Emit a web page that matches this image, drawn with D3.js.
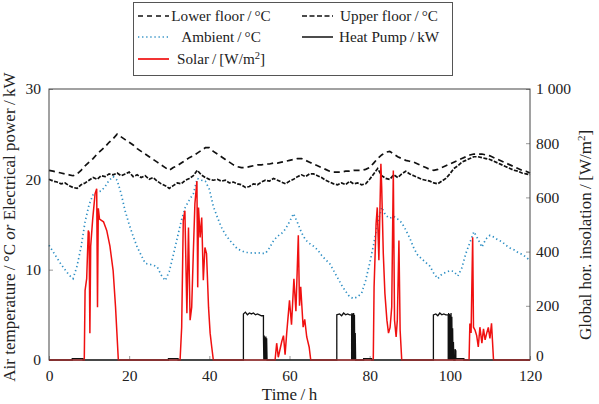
<!DOCTYPE html>
<html>
<head>
<meta charset="utf-8">
<script src="https://cdn.jsdelivr.net/npm/d3@7"></script>
<style>
  body { margin: 0; background: #fff; }
  svg text { font-family: "Liberation Serif", "DejaVu Serif", serif; fill: #222; }
</style>
</head>
<body>
<div id="chart"></div>
<script>
// hourly samples, t = 0..120 h
const hours = d3.range(0, 121);

const lowerFloor = [
  21.0, 20.9, 20.8, 20.7, 20.6, 20.5, 20.4, 20.6, 21.0, 21.5,
  21.9, 22.3, 22.8, 23.2, 23.6, 24.1, 24.5, 25.0, 24.7, 24.4,
  24.1, 23.8, 23.4, 23.1, 22.8, 22.5, 22.2, 21.9, 21.6, 21.3,
  21.0, 21.3, 21.5, 21.8, 22.1, 22.4, 22.6, 22.9, 23.2, 23.5,
  23.5, 23.1, 22.8, 22.5, 22.2, 21.9, 21.6, 21.4, 21.3, 21.3,
  21.4, 21.5, 21.6, 21.6, 21.7, 21.7, 21.8, 21.8, 21.9, 22.0,
  22.1, 22.2, 22.3, 22.3, 22.1, 21.9, 21.7, 21.5, 21.3, 21.1,
  20.9, 20.8, 20.8, 20.8, 20.9, 20.9, 21.0, 21.0, 21.0, 21.1,
  21.3, 21.8, 22.3, 22.7, 23.0, 23.1, 22.8, 22.5, 22.3, 22.1,
  22.0, 21.9, 21.7, 21.5, 21.3, 21.1, 21.0, 21.1, 21.3, 21.5,
  21.7, 21.9, 22.1, 22.3, 22.5, 22.7, 22.8, 22.8, 22.8, 22.7,
  22.6, 22.4, 22.2, 22.0, 21.8, 21.6, 21.4, 21.2, 21.0, 20.9,
  20.7
];

const upperFloor = [
  20.0, 19.8, 19.7, 19.5, 19.6, 19.3, 19.1, 19.0, 19.4, 19.6,
  19.9, 20.2, 20.0, 20.4, 20.3, 20.6, 20.5, 20.7, 20.4, 20.6,
  20.8, 20.3, 20.5, 20.2, 20.4, 20.0, 20.2, 19.8, 19.5, 19.3,
  19.0, 19.3, 19.6, 19.5, 19.9, 20.1, 20.4, 21.0, 20.5, 20.2,
  20.0, 19.9, 20.0, 19.8, 19.9, 19.6, 19.7, 19.5, 19.4, 19.1,
  19.2, 19.5, 19.4, 19.7, 19.9, 19.8, 20.1, 19.9, 19.7, 19.5,
  19.8, 20.0, 20.3, 20.5, 20.3, 20.6, 20.6, 20.4, 20.2, 19.9,
  19.7, 19.5, 19.4, 19.6, 19.4, 19.8, 19.5, 19.6, 19.4, 19.5,
  20.0, 20.6, 21.2, 20.4, 20.1, 20.0, 20.5, 20.2, 20.6, 20.9,
  20.6, 20.4, 20.2, 20.0, 19.9, 19.8, 19.6, 19.5, 19.8, 20.1,
  20.6, 21.2, 21.5, 21.9, 22.1, 22.3, 22.5, 22.5, 22.4, 22.3,
  22.2, 22.0, 21.8, 21.6, 21.4, 21.2, 21.0, 20.9, 20.7, 20.6,
  20.5
];

const ambient = [
  12.7, 12.0, 11.3, 10.6, 10.0, 9.4, 9.0, 10.4, 12.5, 15.3,
  17.2, 18.3, 18.6, 18.7, 19.2, 19.9, 20.3, 19.9, 18.4, 16.5,
  15.0, 13.7, 12.5, 11.6, 10.7, 10.6, 10.5, 10.3, 9.4, 8.8,
  9.8, 11.6, 13.5, 15.4, 16.9, 17.7, 18.4, 20.1, 19.9, 19.8,
  18.9, 17.0, 15.8, 14.7, 13.9, 13.3, 12.8, 12.3, 12.1, 11.9,
  11.9, 11.8, 11.9, 11.8, 11.8, 12.4, 13.2, 13.7, 14.0, 14.5,
  15.3, 16.2, 15.2, 14.1, 13.3, 12.9, 12.6, 12.2, 11.6, 11.1,
  10.7, 9.9, 9.1, 8.3, 7.6, 7.0, 6.8, 7.0, 7.4, 8.8,
  10.7, 12.8, 15.2, 16.9, 16.0, 15.7, 15.9, 15.6, 15.2, 14.4,
  13.5, 12.4, 11.6, 11.2, 10.8, 10.4, 9.6, 9.0, 9.5, 9.7,
  9.9, 9.8, 9.3, 10.2, 11.8, 13.0, 14.2, 13.4, 12.5, 13.4,
  13.8, 13.6, 13.3, 13.1, 12.7, 12.4, 12.2, 11.9, 11.7, 11.4,
  11.0
];

// [hour, kW]
const heatPump = [
  [0, 0], [5.8, 0], [5.8, 0.15], [8.5, 0.15], [8.5, 0],
  [29.8, 0], [29.8, 0.15], [32.2, 0.15], [32.2, 0],
  [48.5, 0], [48.5, 5.1], [49, 5.3], [49.5, 5.0], [50, 5.2], [50.5, 5.1],
  [51, 5.2], [51.5, 5.0], [52, 5.1], [52.5, 5.0], [53, 4.9], [53.5, 4.9],
  [53.5, 2.6], [53.6, 0], [53.7, 2.7], [53.8, 0], [53.9, 2.5], [54.0, 0],
  [54.1, 2.6], [54.2, 0], [54.3, 2.4], [54.4, 0],
  [71.8, 0], [71.8, 5.0], [72.5, 5.1], [73, 4.9], [73.5, 5.2], [74, 5.0],
  [74.5, 5.1], [75, 5.0], [75.5, 5.0], [75.5, 0], [75.6, 5.2], [75.7, 0],
  [75.8, 5.1], [75.9, 0], [76.0, 5.2], [76.1, 0], [76.2, 5.0], [76.3, 0],
  [76.4, 3.0], [76.5, 0],
  [78.5, 0], [78.5, 0.15], [80.5, 0.15], [80.5, 0],
  [95.9, 0], [95.9, 5.0], [96.5, 5.1], [97, 4.9], [97.5, 5.2], [98, 5.0],
  [98.5, 5.1], [99, 5.0], [99.6, 5.0], [99.6, 0], [99.7, 5.2], [99.8, 0],
  [99.9, 5.1], [100.0, 0], [100.1, 5.0], [100.2, 0], [100.3, 5.2], [100.4, 0],
  [100.5, 4.8], [100.6, 0], [100.7, 3.5], [100.8, 0], [100.9, 2.0], [101.0, 0],
  [101.3, 0], [101.3, 1.2], [101.5, 1.0], [101.5, 0.15], [103.5, 0.15],
  [103.5, 0], [120, 0]
];

// [hour, W/m²]
const solar = [
  [0, 0], [8.8, 0], [9.0, 257], [9.4, 300], [9.8, 478], [10.0, 470], [10.2, 99],
  [10.4, 420], [10.9, 520], [11.5, 614], [11.9, 632], [12.1, 195], [12.3, 560],
  [12.6, 520], [13.6, 510], [14.4, 478], [15.2, 420], [16.0, 330], [16.6, 195],
  [17.3, 0],
  [32.7, 0], [33.1, 121], [33.5, 515], [33.9, 551], [34.4, 173], [34.8, 489],
  [35.2, 147], [35.6, 195], [36.0, 393], [36.4, 577], [36.9, 660], [37.1, 268],
  [37.3, 563], [37.7, 452], [38.1, 526], [38.5, 294], [38.9, 415], [39.3, 393],
  [39.8, 195], [40.2, 99], [40.6, 48], [41.0, 0],
  [56.4, 0], [56.8, 62], [57.2, 10], [57.6, 37], [58.1, 70], [58.5, 90],
  [58.9, 20], [59.3, 99], [60.0, 220], [60.5, 130], [61.1, 300], [61.6, 180],
  [62.2, 460], [62.5, 200], [62.8, 270], [63.4, 121], [63.8, 150], [64.3, 85],
  [64.9, 48], [65.3, 0],
  [80.9, 0], [81.1, 268], [81.6, 503], [81.9, 563], [82.3, 368], [82.8, 724],
  [83.0, 637], [83.4, 393], [83.8, 246], [84.3, 147], [84.7, 99], [85.1, 120],
  [85.5, 195], [85.9, 699], [86.2, 147], [86.6, 85], [86.9, 147], [87.3, 441],
  [87.6, 110], [88.0, 0],
  [104.8, 0], [105.0, 135], [105.3, 100], [105.7, 453], [105.9, 121],
  [106.3, 110], [106.7, 90], [107.1, 48], [107.5, 121], [108.0, 62],
  [108.4, 115], [108.8, 74], [109.2, 99], [109.6, 120], [110.0, 80],
  [110.4, 135], [110.9, 0], [120, 0]
];

const xTicks = [0, 20, 40, 60, 80, 100, 120];
const leftTicks = [0, 10, 20, 30];
const rightTicks = [0, 200, 400, 600, 800, 1000];

const W = 599, H = 404;
const plot = { left: 49, right: 530, top: 89, bottom: 360 };

const svg = d3.select("#chart").append("svg")
  .attr("width", W)
  .attr("height", H);

const x = d3.scaleLinear().domain([0, 120]).range([plot.left, plot.right]);
const yL = d3.scaleLinear().domain([0, 30]).range([plot.bottom, plot.top]);
const yR = d3.scaleLinear().domain([0, 1000]).range([plot.bottom, plot.top]);

// axes (ticks inside, like pgfplots)
const tickCol = "#999";
svg.append("g")
  .attr("transform", `translate(0,${plot.bottom})`)
  .call(d3.axisBottom(x).tickValues(xTicks).tickSizeInner(-4).tickSizeOuter(0).tickPadding(10))
  .call(g => g.select(".domain").remove());
svg.append("g")
  .attr("transform", `translate(${plot.left},0)`)
  .call(d3.axisLeft(yL).tickValues(leftTicks).tickSizeInner(-4).tickSizeOuter(0).tickPadding(8))
  .call(g => g.select(".domain").remove());
svg.append("g")
  .attr("class", "right-axis")
  .attr("transform", `translate(${plot.right},0)`)
  .call(d3.axisRight(yR).tickValues(rightTicks).tickSizeInner(-4).tickSizeOuter(0).tickPadding(6)
    .tickFormat(d => d >= 1000 ? "1 000" : d))
  .call(g => g.select(".domain").remove());

svg.selectAll(".tick line").attr("stroke", tickCol);
svg.selectAll(".tick text").attr("font-size", 15.5).attr("fill", "#222")
  .attr("font-family", '"Liberation Serif", serif');
// the right "0" sits just above the "120" of the time axis
svg.selectAll(".right-axis .tick text").filter(d => d === 0).attr("dy", "0.05em");

// lines
const lineL = d3.line().x((d, i) => x(hours[i])).y(d => yL(d));
const linePair = d3.line().x(d => x(d[0])).y(d => yL(d[1]));
const lineSolar = d3.line().x(d => x(d[0])).y(d => yR(d[1]));

svg.append("path").datum(lowerFloor)
  .attr("d", lineL).attr("fill", "none")
  .attr("stroke", "#111").attr("stroke-width", 1.7).attr("stroke-dasharray", "6,4");
svg.append("path").datum(upperFloor)
  .attr("d", lineL).attr("fill", "none")
  .attr("stroke", "#111").attr("stroke-width", 1.7).attr("stroke-dasharray", "4,1.5");
svg.append("path").datum(ambient)
  .attr("d", lineL).attr("fill", "none")
  .attr("stroke", "#2e8fc4").attr("stroke-width", 1.7).attr("stroke-dasharray", "1.3,2.8");
svg.append("path").datum(heatPump)
  .attr("d", linePair).attr("fill", "none")
  .attr("stroke", "#111").attr("stroke-width", 1.3);
svg.append("path").datum(solar)
  .attr("d", lineSolar).attr("fill", "none")
  .attr("stroke", "#f01010").attr("stroke-width", 1.5);

// frame
svg.append("rect")
  .attr("x", plot.left).attr("y", plot.top)
  .attr("width", plot.right - plot.left).attr("height", plot.bottom - plot.top)
  .attr("fill", "none").attr("stroke", "#444").attr("stroke-width", 1);

// axis labels
svg.append("text")
  .attr("x", (plot.left + plot.right) / 2).attr("y", 400)
  .attr("text-anchor", "middle").attr("font-size", 17)
  .text("Time\u2009/\u2009h");

const leftLab = svg.append("text")
  .attr("transform", "translate(15,227) rotate(-90)")
  .attr("text-anchor", "middle").attr("font-size", 17);
leftLab.append("tspan").text("Air temperature\u2009/\u2009°C ");
leftLab.append("tspan").attr("font-style", "italic").text("or");
leftLab.append("tspan").text(" Electrical power\u2009/\u2009kW");

const rightLab = svg.append("text")
  .attr("transform", "translate(591,235) rotate(-90)")
  .attr("text-anchor", "middle").attr("font-size", 17);
rightLab.append("tspan").text("Global hor. insolation\u2009/\u2009[W/m");
rightLab.append("tspan").attr("dy", -6).attr("font-size", 11).text("2");
rightLab.append("tspan").attr("dy", 6).text("]");

// legend
const lg = svg.append("g");
lg.append("rect").attr("x", 133.5).attr("y", 2.5).attr("width", 319).attr("height", 73)
  .attr("fill", "#fff").attr("stroke", "#555").attr("stroke-width", 1);

const legendItems = [
  { label: ["Lower floor\u2009/\u2009°C"], col: 0, row: 0, stroke: "#111", dash: "5,4", w: 1.7 },
  { label: ["Upper floor\u2009/\u2009°C"], col: 1, row: 0, stroke: "#111", dash: "5,2.5", w: 1.7 },
  { label: ["Ambient\u2009/\u2009°C"], col: 0, row: 1, stroke: "#2e8fc4", dash: "1.3,2.8", w: 1.7 },
  { label: ["Heat Pump\u2009/\u2009kW"], col: 1, row: 1, stroke: "#111", dash: null, w: 1.5 },
  { label: ["Solar\u2009/\u2009[W/m", "2", "]"], col: 0, row: 2, stroke: "#f01010", dash: null, w: 1.7 }
];
const colX = [138, 302], colText = [221, 389], rowY = [16, 37, 59];

legendItems.forEach(it => {
  const y0 = rowY[it.row];
  const ln = lg.append("line")
    .attr("x1", colX[it.col]).attr("x2", colX[it.col] + 31)
    .attr("y1", y0).attr("y2", y0)
    .attr("stroke", it.stroke).attr("stroke-width", it.w);
  if (it.dash) ln.attr("stroke-dasharray", it.dash);
  const t = lg.append("text")
    .attr("x", colText[it.col]).attr("y", y0 + 5)
    .attr("text-anchor", "middle").attr("font-size", 15.2);
  t.append("tspan").text(it.label[0]);
  if (it.label.length > 1) {
    t.append("tspan").attr("dy", -5).attr("font-size", 10.5).text(it.label[1]);
    t.append("tspan").attr("dy", 5).text(it.label[2]);
  }
});
</script>
</body>
</html>
